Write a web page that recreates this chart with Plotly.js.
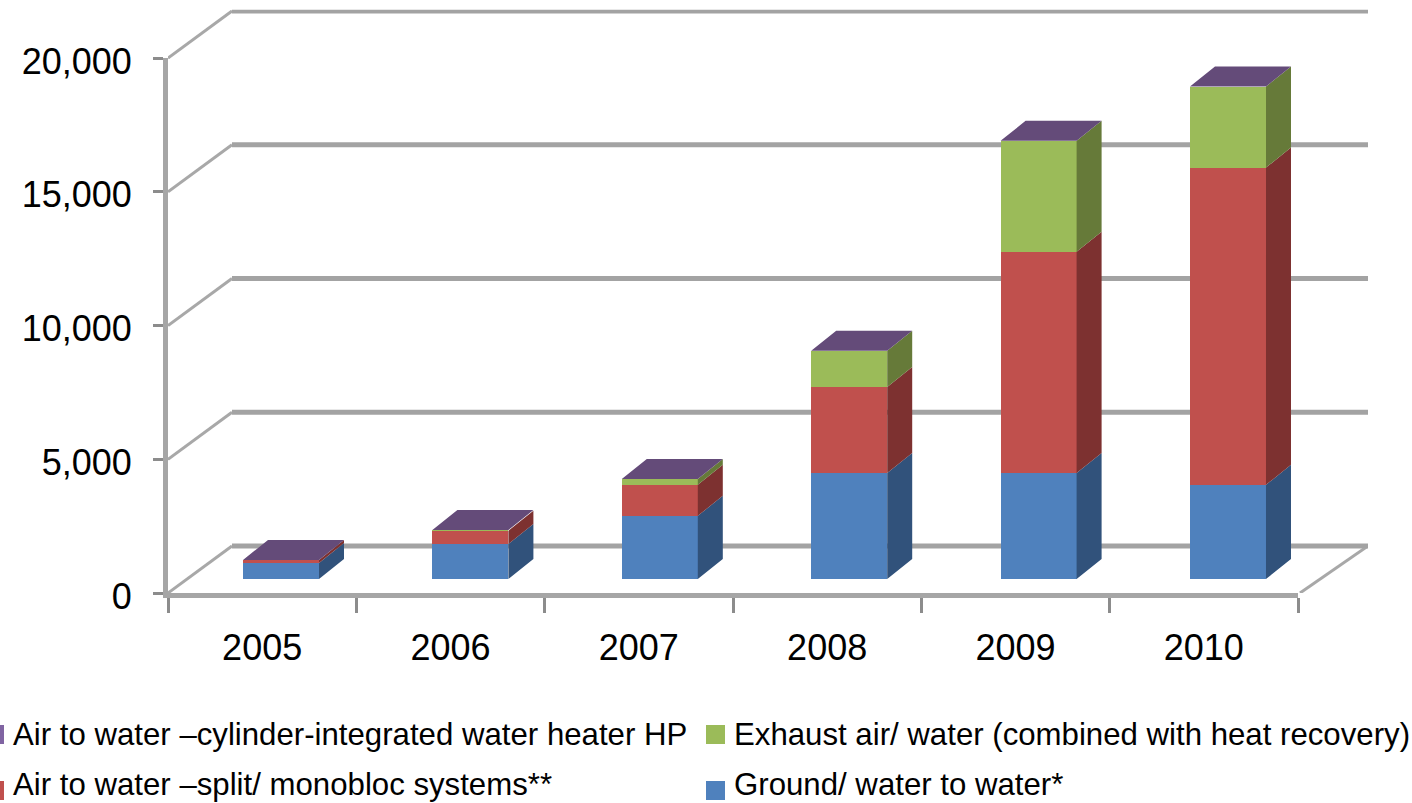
<!DOCTYPE html>
<html><head><meta charset="utf-8">
<script src="https://cdn.plot.ly/plotly-3.0.1.min.js"></script>
<style>html,body{margin:0;padding:0;background:#fff;overflow:hidden}#c{width:1412px;height:803px}</style>
</head><body><div id="c"></div>
<script>
const years = ['2005','2006','2007','2008','2009','2010'];
const ground = [600,1310,2360,3960,3960,3520];
const split = [110,490,1160,3220,8270,11860];
const exhaust = [0,30,220,1350,4150,3030];
const cylinder = [0,0,0,0,0,0];
const yTicks = [0,5000,10000,15000,20000];
const seriesNames = ['Ground/ water to water*','Air to water \u2013split/ monobloc systems**','Exhaust air/ water (combined with heat recovery)','Air to water \u2013cylinder-integrated water heater HP'];
const frontColors = ['#4f81bd','#c0504d','#9bbb59','#8064a2'];
const sideColors = ['#31527b','#7d3130','#667a39','#644b79'];
const topColor = '#644b79';

const W=1412,H=803;
const pxPerUnit = 535/20000;            // vertical scale of the front plane
const toDomX = (a,b)=>[a/W,b/W];
const toDomY = (bottom,top)=>[1-bottom/H,1-top/H];
const sets = [ground,split,exhaust,cylinder];
const idx = years.map((_,i)=>i);
const barW = 76/189.4, depthX = 25/189.4, depthY = 20/pxPerUnit;
const traces = [];

// walls and floor (subplot x2/y2, drawn below the bars)
const wallLeft = -0.5+64/188.67, wallRight = 5.5+68/188.67, wallDy = 47/pxPerUnit;
const wallTop = 21800;
const gx=[],gy=[],sx0=[],sy0=[];
yTicks.forEach(v=>{
  gx.push(wallLeft,wallRight,null);gy.push(v+wallDy,v+wallDy,null);
  sx0.push(-0.5,wallLeft,null);sy0.push(v,v+wallDy,null);
});
sx0.push(5.5,wallRight,null);sy0.push(0,wallDy,null);
traces.push({type:'scatter',mode:'lines',x:sx0,y:sy0,xaxis:'x2',yaxis:'y2',hoverinfo:'skip',showlegend:false,cliponaxis:false,
  line:{color:'#a8a8a8',width:3}});
traces.push({type:'scatter',mode:'lines',x:gx,y:gy,xaxis:'x2',yaxis:'y2',hoverinfo:'skip',showlegend:false,cliponaxis:false,
  line:{color:'#a3a3a3',width:5}});

// front faces as stacked bars (subplot x3/y3)
sets.forEach((vals,s)=>{
  traces.push({type:'bar',x:idx,y:vals,name:seriesNames[s],xaxis:'x3',yaxis:'y3',width:barW,showlegend:false,
    marker:{color:frontColors[s],line:{width:0}},cliponaxis:false});
});
// side faces
const cum = idx.map(()=>0);
sets.forEach((vals,s)=>{
  const sx=[],sy=[];
  idx.forEach(i=>{
    const v0=cum[i],v1=cum[i]+vals[i],xr=i+barW/2;
    if(vals[i]>0){sx.push(xr,xr+depthX,xr+depthX,xr,xr,null);sy.push(v0,v0+depthY,v1+depthY,v1,v0,null);}
    cum[i]=v1;
  });
  if(sx.length) traces.push({type:'scatter',mode:'lines',fill:'toself',x:sx,y:sy,xaxis:'x3',yaxis:'y3',hoverinfo:'skip',showlegend:false,cliponaxis:false,
    fillcolor:sideColors[s],line:{width:0,color:sideColors[s]}});
});
// top faces
const tx=[],ty=[];
idx.forEach(i=>{
  const l=i-barW/2,r=i+barW/2,v=cum[i];
  tx.push(l,r,r+depthX,l+depthX,l,null);ty.push(v,v,v+depthY,v+depthY,v,null);
});
traces.push({type:'scatter',mode:'lines',fill:'toself',x:tx,y:ty,xaxis:'x3',yaxis:'y3',hoverinfo:'skip',showlegend:false,cliponaxis:false,
  fillcolor:topColor,line:{width:0,color:topColor}});
// invisible trace for the category axis
traces.push({type:'scatter',mode:'none',x:years,y:years.map(()=>0),xaxis:'x',yaxis:'y',hoverinfo:'skip',showlegend:false});

const textFont = {family:'Liberation Sans, Arial, sans-serif',color:'#000'};
const tickColor='#8c8c8c';
const legendRows=[
  {x:12,y:734,s:3,sw:[-15,4],c:734},{x:733,y:734,s:2,sw:[706,725],c:734},
  {x:12,y:784,s:1,sw:[-15,4],c:790},{x:733,y:784,s:0,sw:[706,725],c:790}
];
const layout = {
  width:W,height:H,margin:{l:0,r:0,t:0,b:0},paper_bgcolor:'#fff',plot_bgcolor:'rgba(0,0,0,0)',
  barmode:'stack',bargap:0,showlegend:false,hovermode:false,
  xaxis:{type:'category',domain:toDomX(168,1298),range:[-0.5,5.5],anchor:'y',tickson:'boundaries',ticks:'outside',ticklen:15,tickwidth:3,tickcolor:tickColor,
    showgrid:false,zeroline:false,showline:true,linecolor:'#a6a6a6',linewidth:5,
    tickfont:{...textFont,size:36},ticklabelstandoff:19},
  yaxis:{domain:toDomY(593,58),range:[0,20000],anchor:'x',tickvals:yTicks,tickformat:',',ticks:'outside',ticklen:10,tickwidth:3,tickcolor:tickColor,
    showgrid:false,zeroline:false,showline:true,linecolor:'#a6a6a6',linewidth:5,
    tickfont:{...textFont,size:36},ticklabelstandoff:14,ticklabelshift:3},
  xaxis3:{domain:toDomX(186.3,1322.7),range:[-0.5,5.5],anchor:'y3',visible:false,fixedrange:true},
  yaxis3:{domain:toDomY(579,44),range:[0,20000],anchor:'x3',visible:false,fixedrange:true},
  xaxis2:{domain:toDomX(168,1368),range:[-0.5,wallRight],anchor:'y2',visible:false,fixedrange:true},
  yaxis2:{domain:toDomY(593,593-wallTop*pxPerUnit),range:[0,wallTop],anchor:'x2',visible:false,fixedrange:true},
  annotations:legendRows.map(r=>({xref:'paper',yref:'paper',x:r.x/W,y:1-r.y/H,xanchor:'left',yanchor:'middle',showarrow:false,
    text:seriesNames[r.s],font:{...textFont,size:31.2},borderpad:0})),
  shapes:legendRows.map(r=>({type:'rect',xref:'paper',yref:'paper',x0:r.sw[0]/W,x1:r.sw[1]/W,y0:1-(r.c+10)/H,y1:1-(r.c-9)/H,
    fillcolor:frontColors[r.s],line:{width:0},layer:'above'}))
};
Plotly.newPlot('c',traces,layout,{displayModeBar:false,staticPlot:true});
</script></body></html>
